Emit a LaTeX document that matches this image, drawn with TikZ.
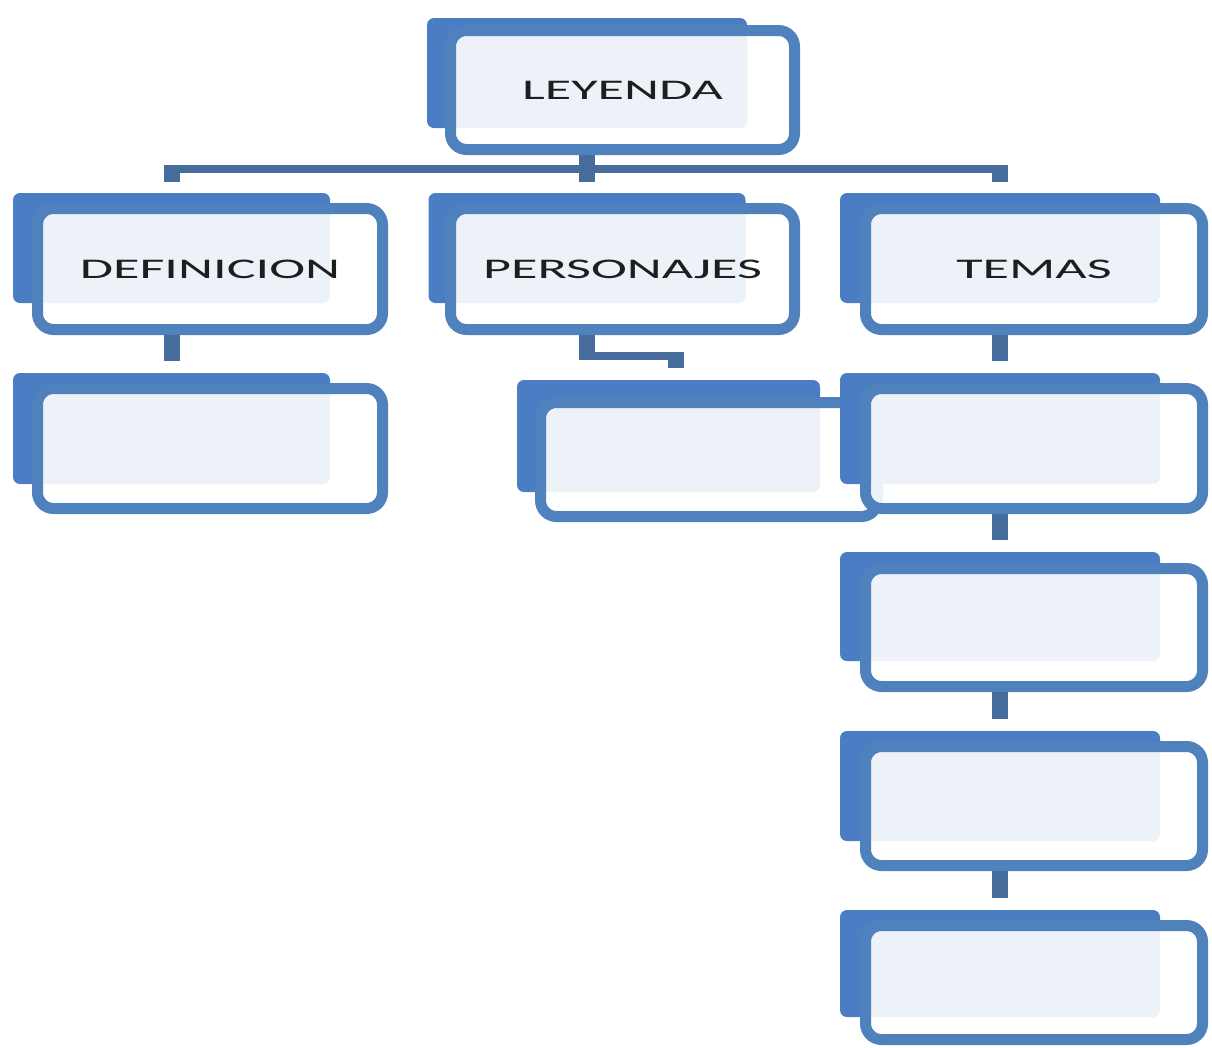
\documentclass[tikz,border=0pt]{standalone}
\usepackage{fontspec}
\setmainfont{Carlito}
\usepackage{graphicx}
\definecolor{boxblue}{RGB}{79,129,189}
\definecolor{backblue}{RGB}{74,125,196}
\definecolor{linkblue}{RGB}{70,108,156}
\definecolor{lbltext}{RGB}{30,30,30}
\usetikzlibrary{calc, positioning}
\newcommand{\widelbl}[1]{\scalebox{1.9}[1]{#1}}

\begin{document}
\begin{tikzpicture}[
  x=1pt, y=-1pt,
  backbox/.style={fill=backblue, rounded corners=7pt, inner sep=0pt,
    minimum width=320pt, minimum height=110pt},
  frontbox/.style={draw=boxblue, line width=11pt, fill=white,
    fill opacity=0.9, text opacity=1, draw opacity=1,
    rounded corners=16pt, inner sep=0pt, minimum width=337pt,
    minimum height=120pt, font=\fontsize{28.5}{30}\selectfont, text=lbltext},
  vlink/.style={linkblue, line width=16pt},
  hlink/.style={linkblue, line width=8pt},
]
\useasboundingbox (0,0) rectangle (1212,1047);

% ---- top (LEYENDA) ----
\node[backbox]  (ley-bk) at (587,73) {};
\node[frontbox, minimum width=344pt, minimum height=119pt] (ley)
  at (622.5,90) {\widelbl{LEYENDA}};

% ---- second row ----
\node[backbox, minimum width=317pt] (def-bk) at (171.5,248) {};
\node[frontbox, minimum width=345pt, minimum height=121pt] (def)
  at (210,269) {\widelbl{DEFINICION}};
\node[backbox, minimum width=317pt] (per-bk) at (587,248) {};
\node[frontbox, minimum width=344pt, minimum height=121pt] (per)
  at (622.5,269) {\widelbl{PERSONAJES}};
\node[backbox]  (tem-bk) at (1000,248) {};
\node[frontbox, minimum height=121pt] (tem)
  at (1034,269) {\widelbl{TEMAS}};

% ---- children ----
\node[backbox, minimum width=317pt, minimum height=111pt] (defc-bk)
  at (171.5,428.5) {};
\node[frontbox, minimum width=345pt] (defc) at (210,448.5) {};
\node[backbox, minimum width=303pt, minimum height=112pt] (perc-bk)
  at (668.5,436) {};
\node[frontbox, minimum height=114pt] (perc) at (709,459.5) {};
\node[backbox, minimum height=111pt] (temc1-bk) at (1000,428.5) {};
\node[frontbox] (temc1) at (1034,448.5) {};
\node[backbox, minimum height=109pt] (temc2-bk) at (1000,606.5) {};
\node[frontbox, minimum height=118pt] (temc2) at (1034,627.5) {};
\node[backbox]  (temc3-bk) at (1000,786) {};
\node[frontbox, minimum height=119pt] (temc3) at (1034,806) {};
\node[backbox, minimum height=107pt] (temc4-bk) at (1000,963.5) {};
\node[frontbox, minimum height=114pt] (temc4) at (1034,982.5) {};

% ---- connectors ----
\coordinate (bar-l) at (171.5,169);
\coordinate (bar-r) at (1000,169);
\coordinate (def-in) at (171.5,182);
\coordinate (per-in) at (587,182);
\coordinate (tem-in) at (1000,182);
\draw[hlink] (bar-l) -- (bar-r);
\draw[vlink] (ley.south -| ley-bk) -- (per-in);
\draw[vlink] ([yshift=4pt]bar-l) -- (def-in);
\draw[vlink] ([yshift=4pt]bar-r) -- (tem-in);

\draw[vlink] (def.south -| def-bk) -- ([yshift=12pt]defc-bk.north);

\coordinate (per-elb) at (587,356);
\coordinate (perc-elb) at (676,356);
\coordinate (perc-in) at (676,368);
\draw[vlink] (per.south -| per-bk) -- ([yshift=-4pt]per-elb);
\draw[hlink] (per-elb) -- (perc-elb);
\draw[vlink] ([yshift=4pt]perc-elb) -- (perc-in);

\draw[vlink] (tem.south -| tem-bk) -- ([yshift=12pt]temc1-bk.north);
\draw[vlink] (temc1.south -| temc1-bk) -- ([yshift=12pt]temc2-bk.north);
\draw[vlink] (temc2.south -| temc2-bk) -- ([yshift=12pt]temc3-bk.north);
\draw[vlink] (temc3.south -| temc3-bk) -- ([yshift=12pt]temc4-bk.north);

\end{tikzpicture}
\end{document}
